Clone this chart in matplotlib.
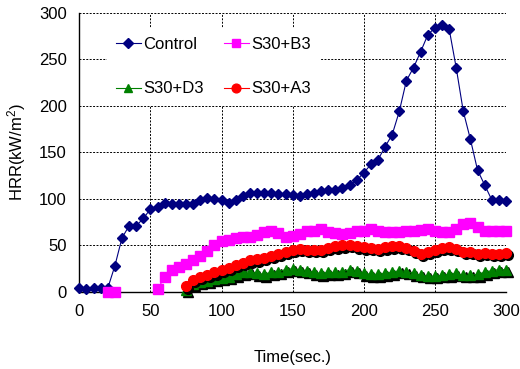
import numpy as np
import matplotlib
matplotlib.use("Agg")
import matplotlib.pyplot as plt
from matplotlib.transforms import ScaledTranslation

plt.rcParams['font.family'] = ['Liberation Sans', 'DejaVu Sans']
plt.rcParams['mathtext.default'] = 'regular'

# time axis (sec), every 5 s
time = np.arange(0, 301, 5)

control = [4, 3, 4, 4, 4, 28, 58, 71, 71, 79, 89, 91, 96, 95, 95, 95, 95, 99, 101, 100,
           99, 96, 99, 103, 106, 106, 106, 106, 105, 105, 104, 103, 105, 106, 108, 110,
           110, 112, 115, 120, 128, 137, 142, 156, 169, 194, 227, 241, 258, 276, 284, 287,
           283, 241, 194, 164, 131, 115, 99, 99, 98]

nan = np.nan
s30_b3 = [nan, nan, nan, nan, 0, 0, nan, nan, nan, nan, nan, 3, 16, 24, 27, 30, 34, 39, 44, 50,
          55, 56, 58, 59, 59, 61, 64, 65, 63, 59, 60, 62, 65, 66, 68, 64, 63, 62, 63, 65,
          66, 68, 66, 64, 64, 64, 65, 66, 67, 68, 65, 64, 64, 68, 73, 74, 70, 66, 66, 66, 66]

s30_d3 = [nan] * 15 + [2, 9, 11, 12, 14, 15, 16, 19, 21, 22, 20, 19, 21, 22, 24, 25, 24, 23,
                       21, 20, 21, 21, 22, 24, 23, 20, 19, 19, 20, 21, 23, 22, 20, 18, 17,
                       17, 18, 19, 20, 18, 18, 19, 21, 23, 24, 24]

s30_a3 = [nan] * 15 + [6, 13, 16, 18, 21, 24, 26, 29, 31, 34, 35, 37, 39, 41, 43, 45, 46, 45,
                       45, 45, 47, 49, 50, 51, 49, 48, 47, 46, 48, 49, 49, 47, 44, 41, 43,
                       45, 47, 48, 46, 43, 43, 41, 42, 41, 41, 42]

fig = plt.figure(figsize=(5.2, 3.69), dpi=100)
ax = fig.add_axes([0.1525, 0.2087, 0.8205, 0.7569])

# black drop shadow under the red / green markers
shadow = ax.transData + ScaledTranslation(1.6 / 72, -1.6 / 72, fig.dpi_scale_trans)

ax.plot(time, control, color='#000080', lw=0.8, marker='D', ms=5.5, mec='#000080',
        label='Control', clip_on=False, zorder=3)
ax.plot(time, s30_d3, 'k^', ms=7, transform=shadow, zorder=3, clip_on=False)
ax.plot(time, s30_d3, color='#008000', lw=0.8, marker='^', ms=7, mec='#008000',
        label='S30+D3', clip_on=False, zorder=3)
ax.plot(time, s30_b3, color='#ff00ff', lw=0.8, marker='s', ms=7, mec='#ff00ff',
        label='S30+B3', clip_on=False, zorder=3)
ax.plot(time, s30_a3, 'ko', ms=7, transform=shadow, zorder=3, clip_on=False)
ax.plot(time, s30_a3, color='#ff0000', lw=0.8, marker='o', ms=7, mec='#ff0000',
        label='S30+A3', clip_on=False, zorder=3)

ax.set_xlim(0, 300)
ax.set_ylim(0, 300)
ax.set_xticks(np.arange(0, 301, 50))
ax.set_yticks(np.arange(0, 301, 50))
ax.tick_params(length=0, labelsize=12)
ax.tick_params(axis='x', pad=9)
ax.tick_params(axis='y', pad=9)
ax.grid(True, color='black', ls=(0, (2, 1.5)), lw=0.7)
ax.set_axisbelow(True)
for s in ['top', 'right']:
    ax.spines[s].set_visible(False)
for s in ['left', 'bottom']:
    ax.spines[s].set_linewidth(1.0)
    ax.spines[s].set_zorder(2.5)

ax.set_xlabel('Time(sec.)', fontsize=12, labelpad=22)
ax.set_ylabel('HRR(kW/m$^{2}$)', fontsize=12, labelpad=8)

leg = ax.legend(ncol=2, loc='upper left', bbox_to_anchor=(0.045, 0.975), fontsize=12,
                frameon=True, fancybox=False, edgecolor='none', framealpha=1,
                labelspacing=1.75, handlelength=1.5, handletextpad=0.15,
                columnspacing=1.2, borderpad=0.55, markerscale=0.9)
leg.set_zorder(4)

fig.savefig('out.png', dpi=100)
